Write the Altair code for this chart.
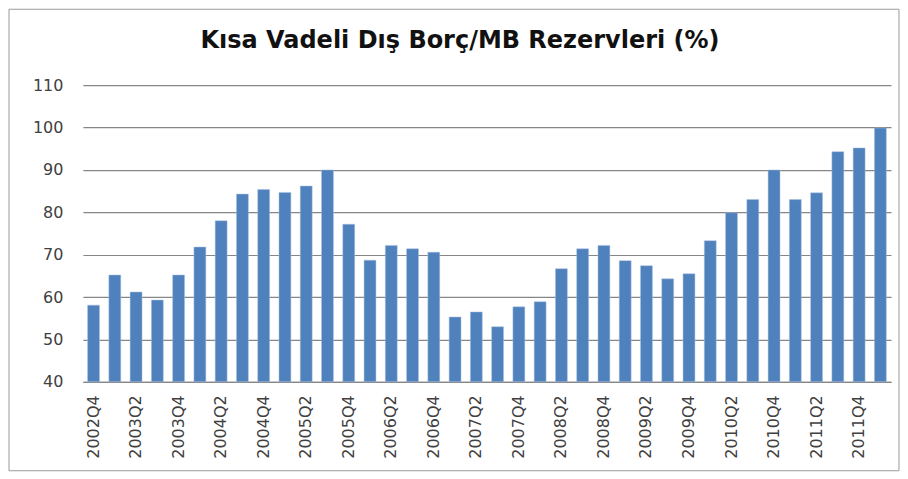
import altair as alt
import pandas as pd

quarters = [
    "2002Q4",
    "2003Q1", "2003Q2", "2003Q3", "2003Q4",
    "2004Q1", "2004Q2", "2004Q3", "2004Q4",
    "2005Q1", "2005Q2", "2005Q3", "2005Q4",
    "2006Q1", "2006Q2", "2006Q3", "2006Q4",
    "2007Q1", "2007Q2", "2007Q3", "2007Q4",
    "2008Q1", "2008Q2", "2008Q3", "2008Q4",
    "2009Q1", "2009Q2", "2009Q3", "2009Q4",
    "2010Q1", "2010Q2", "2010Q3", "2010Q4",
    "2011Q1", "2011Q2", "2011Q3", "2011Q4",
    "2012Q1",
]
values = [
    58.1,
    65.2, 61.2, 59.3, 65.2,
    71.8, 78.0, 84.3, 85.4,
    84.7, 86.2, 90.0, 77.2,
    68.7, 72.2, 71.4, 70.6,
    55.3, 56.5, 53.0, 57.7,
    58.9, 66.7, 71.4, 72.2,
    68.6, 67.4, 64.3, 65.5,
    73.3, 79.9, 83.0, 90.0,
    83.0, 84.6, 94.3, 95.2,
    99.9,
]
tick_labels = quarters[::2]
y_ticks = [40, 50, 60, 70, 80, 90, 100, 110]
title_text = "Kısa Vadeli Dış Borç/MB Rezervleri (%)"

df = pd.DataFrame({"quarter": quarters, "value": values})

W, H = 809, 297

bars = alt.Chart(df).mark_bar(color="#4F81BD", stroke="#A9C1E0", strokeWidth=0.5).encode(
    x=alt.X(
        "quarter:N",
        sort=quarters,
        scale=alt.Scale(paddingInner=0.44, paddingOuter=0.22),
        axis=alt.Axis(
            title=None,
            values=tick_labels,
            labelAngle=-90,
            labelFont="DejaVu Sans",
            labelFontSize=16,
            labelColor="#404040",
            labelPadding=13,
            ticks=False,
            domainColor="#868686",
            domainWidth=1.2,
            grid=False,
        ),
    ),
    y=alt.Y(
        "value:Q",
        scale=alt.Scale(domain=[40, 110], nice=False, zero=False),
        axis=alt.Axis(
            title=None,
            values=y_ticks,
            labelFont="DejaVu Sans",
            labelFontSize=16,
            labelColor="#404040",
            labelPadding=20,
            ticks=False,
            domain=False,
            gridColor="#868686",
            gridWidth=1.2,
        ),
    ),
    y2=alt.datum(40),
)

frame = alt.Chart(pd.DataFrame({"a": [0]})).mark_rect(
    filled=False, stroke="#9a9a9a", strokeWidth=1
).encode(
    x=alt.value(-74), x2=alt.value(W + 8),
    y=alt.value(-76), y2=alt.value(H + 89),
)

title = alt.Chart(pd.DataFrame({"t": [title_text]})).mark_text(
    font="DejaVu Sans",
    fontSize=24,
    fontWeight="bold",
    color="#111111",
    align="center",
    baseline="alphabetic",
).encode(
    text="t:N",
    x=alt.value(W / 2 - 27),
    y=alt.value(-37),
)

chart = alt.layer(bars, frame, title).properties(
    width=W,
    height=H,
    autosize=alt.AutoSizeParams(type="none"),
    padding={"left": 75, "top": 77, "right": 9, "bottom": 96},
).configure_view(stroke=None)

chart.save("out.html", embed_options={"renderer": "svg", "actions": False})
